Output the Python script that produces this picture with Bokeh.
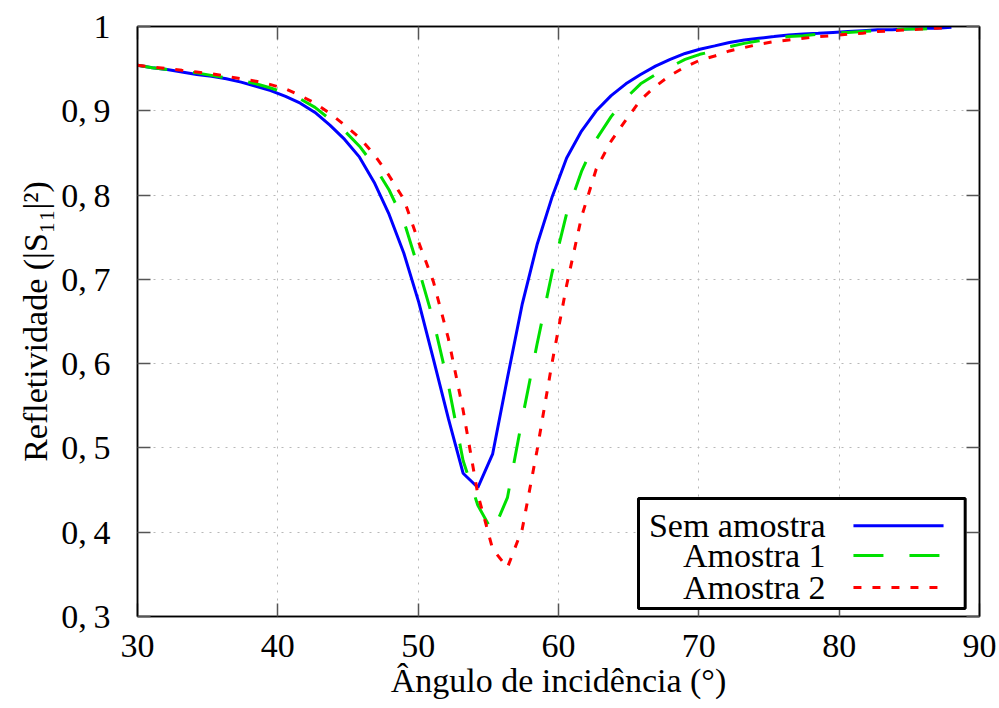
from bokeh.plotting import figure
from bokeh.models import (FixedTicker, CustomJSTickFormatter, LinearAxis, Range1d,
                          Label, BoxAnnotation, Arrow)
from bokeh.embed import file_html
from bokeh.resources import INLINE

# ---------------- data ----------------
angles = [30.00, 31.05, 32.11, 33.16, 34.22, 35.27, 36.33, 37.38, 38.44, 39.49,
          40.55, 41.60, 42.65, 43.71, 44.76, 45.82, 46.87, 47.93, 48.98, 50.04,
          51.09, 52.15, 53.20, 54.25, 55.31, 56.36, 57.42, 58.47, 59.53, 60.58,
          61.64, 62.69, 63.75, 64.80, 65.85, 66.91, 67.96, 69.02, 70.07, 71.13,
          72.18, 73.24, 74.29, 75.35, 76.40, 77.45, 78.51, 79.56, 80.62, 81.67,
          82.73, 83.78, 84.84, 85.89, 86.95, 88.00]

sem_amostra = [0.954, 0.951, 0.949, 0.946, 0.943, 0.941, 0.938, 0.934, 0.929, 0.924,
               0.917, 0.909, 0.898, 0.883, 0.866, 0.845, 0.815, 0.777, 0.731, 0.673,
               0.605, 0.535, 0.470, 0.453, 0.493, 0.583, 0.671, 0.741, 0.797, 0.844,
               0.876, 0.900, 0.918, 0.932, 0.943, 0.953, 0.961, 0.968, 0.973, 0.977,
               0.981, 0.984, 0.986, 0.988, 0.990, 0.991, 0.992, 0.993, 0.994, 0.995,
               0.996, 0.996, 0.997, 0.998, 0.998, 0.999]

amostra_1 = [0.954, 0.951, 0.949, 0.947, 0.945, 0.942, 0.939, 0.936, 0.932, 0.927,
             0.921, 0.914, 0.904, 0.890, 0.876, 0.858, 0.835, 0.806, 0.769, 0.712,
             0.651, 0.575, 0.485, 0.432, 0.400, 0.441, 0.535, 0.623, 0.707, 0.778,
             0.828, 0.866, 0.893, 0.915, 0.932, 0.943, 0.952, 0.961, 0.967, 0.971,
             0.976, 0.980, 0.983, 0.986, 0.988, 0.989, 0.991, 0.992, 0.993, 0.994,
             0.995, 0.996, 0.997, 0.997, 0.998, 0.999]

amostra_2 = [0.954, 0.952, 0.950, 0.948, 0.946, 0.944, 0.941, 0.938, 0.935, 0.931,
             0.926, 0.918, 0.909, 0.897, 0.883, 0.868, 0.848, 0.823, 0.795, 0.744,
             0.697, 0.630, 0.545, 0.445, 0.380, 0.358, 0.404, 0.497, 0.600, 0.693,
             0.774, 0.831, 0.864, 0.889, 0.913, 0.929, 0.942, 0.952, 0.960, 0.965,
             0.971, 0.975, 0.979, 0.982, 0.984, 0.986, 0.988, 0.989, 0.991, 0.992,
             0.994, 0.995, 0.996, 0.997, 0.998, 0.999]

series_names = ["Sem amostra", "Amostra 1", "Amostra 2"]
x_ticks = [30, 40, 50, 60, 70, 80, 90]
y_ticks = [0.3, 0.4, 0.5, 0.6, 0.7, 0.8, 0.9, 1.0]

x_label = "Ângulo de incidência (°)"
y_label = "Refletividade (|S₁₁|²)"

# ---------------- styles ----------------
FONT = "'Liberation Serif', 'Times New Roman', Tinos, serif"
FS = "34px"
colors = ["#0000ff", "#00e000", "#ff0000"]
dashes = ["solid", "30 26", "8 11"]
LW = 3

X0, X1 = 30, 90
Y0, Y1 = 0.3, 1.0

p = figure(width=999, height=708, x_range=Range1d(X0, X1), y_range=Range1d(Y0, Y1),
           output_backend="svg", toolbar_location=None,
           min_border_left=137, min_border_right=20, min_border_top=26, min_border_bottom=92)

p.outline_line_color = "black"
p.outline_line_width = 1.5
p.background_fill_color = "white"
p.border_fill_color = "white"

# grids
p.xgrid.ticker = FixedTicker(ticks=x_ticks)
p.ygrid.ticker = FixedTicker(ticks=y_ticks)
for g in (p.xgrid, p.ygrid):
    g.grid_line_color = "#b8b8b8"
    g.grid_line_dash = "2 6"
    g.grid_line_width = 1

ytick_fmt = CustomJSTickFormatter(
    code="return tick >= 0.999 ? '1' : tick.toFixed(1).replace('.', ',\u2009');")

def style_axis(ax, ticks, show_labels):
    ax.ticker = FixedTicker(ticks=ticks)
    ax.major_tick_in = 13
    ax.major_tick_out = 0
    ax.minor_tick_line_color = None
    ax.major_tick_line_color = "#555555"
    ax.major_tick_line_width = 1.5
    ax.axis_line_color = "black"
    ax.axis_line_width = 1.5
    ax.major_label_text_font = FONT
    ax.axis_label_text_font = FONT
    ax.axis_label_text_font_style = "normal"
    if show_labels:
        ax.major_label_text_font_size = FS
        ax.axis_label_text_font_size = FS
        ax.major_label_text_color = "black"
        ax.axis_label_text_color = "black"
    else:
        ax.major_label_text_font_size = "0px"
        ax.major_label_text_color = None
        ax.major_label_standoff = 0

style_axis(p.xaxis[0], x_ticks, True)
style_axis(p.yaxis[0], y_ticks, True)
p.xaxis[0].axis_label = x_label
p.yaxis[0].axis_label = y_label
p.xaxis[0].major_label_standoff = 18
p.xaxis[0].axis_label_standoff = 2
p.yaxis[0].major_label_standoff = 27
p.yaxis[0].axis_label_standoff = 4
p.yaxis[0].formatter = ytick_fmt

top_ax = LinearAxis()
right_ax = LinearAxis()
style_axis(top_ax, x_ticks, False)
style_axis(right_ax, y_ticks, False)
p.add_layout(top_ax, "above")
p.add_layout(right_ax, "right")

# curves
for ys, c, d in zip([sem_amostra, amostra_1, amostra_2], colors, dashes):
    p.line(angles, ys, line_color=c, line_width=LW, line_dash=d)

# ---------------- legend (gnuplot style: text then sample) ----------------
def fx(frac):
    return X0 + frac * (X1 - X0)

def fy(frac):
    return Y0 + frac * (Y1 - Y0)

box = BoxAnnotation(left=fx(0.595), right=fx(0.983), bottom=fy(0.0137), top=fy(0.2002),
                    fill_color="white", fill_alpha=1.0, line_color="black",
                    line_alpha=1.0, line_width=3)
p.add_layout(box)

row_fracs = [0.154, 0.1036, 0.0493]
for name, c, d, rf in zip(series_names, colors, dashes, row_fracs):
    p.add_layout(Label(x=fx(0.8171), y=fy(rf), text=name, text_align="right",
                       text_baseline="middle", text_font=FONT, text_font_size=FS,
                       text_color="black"))
    p.add_layout(Arrow(start=None, end=None, x_start=fx(0.8503), y_start=fy(rf),
                       x_end=fx(0.9573), y_end=fy(rf), line_color=c, line_width=LW,
                       line_dash=d))

open("out.html", "w").write(file_html(p, INLINE))
